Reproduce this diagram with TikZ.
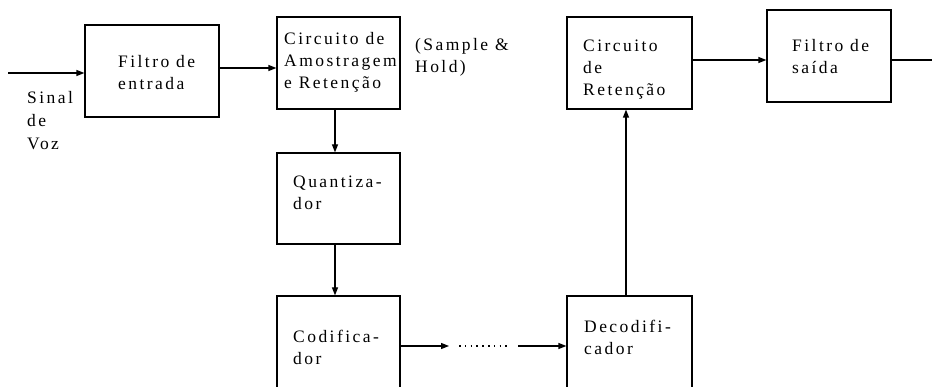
\documentclass[tikz,border=0pt]{standalone}
\usepackage{fontspec}
\setmainfont{Liberation Serif}[LetterSpace=14]
\usetikzlibrary{arrows.meta}
\begin{document}
\begin{tikzpicture}[x=1pt,y=-1pt,
  box/.style={draw,line width=1.2pt,inner sep=0pt},
  arr/.style={line width=1.2pt,-{Triangle[length=8pt,width=6pt]}},
  conn/.style={line width=1.2pt},
  lbl/.style={anchor=base west,inner sep=0pt,font=\fontsize{17.5}{22}\selectfont}]
\useasboundingbox (0,0) rectangle (932,387);
\clip (0,0) rectangle (932,387);
% boxes
\node[box,minimum width=134pt,minimum height=92pt] (fe) at (152,71) {};
\node[box,minimum width=123pt,minimum height=92pt] (cs) at (338.5,63) {};
\node[box,minimum width=123pt,minimum height=91pt] (qz) at (338.5,198.5) {};
\node[box,minimum width=123pt,minimum height=120pt] (cd) at (338.5,356) {};
\node[box,minimum width=125pt,minimum height=120pt] (dc) at (629.5,356) {};
\node[box,minimum width=125pt,minimum height=92pt] (cr) at (629.5,63) {};
\node[box,minimum width=124pt,minimum height=92pt] (fs) at (829,56) {};
% texts
\node[lbl] (t1) at (118,68) {Filtro de};
\node[lbl] (t2) at (118,90) {entrada};
\node[lbl] (t3) at (27,104) {Sinal};
\node[lbl] (t4) at (27,127) {de};
\node[lbl] (t5) at (27,150) {Voz};
\node[lbl] (t6) at (284,45) {Circuito de};
\node[lbl] (t7) at (284,67) {Amostragem};
\node[lbl] (t8) at (284,89) {e Retenção};
\node[lbl] (t9) at (415,51) {(Sample \&};
\node[lbl] (t10) at (415,73) {Hold)};
\node[lbl] (t11) at (293,188) {Quantiza-};
\node[lbl] (t12) at (293,210) {dor};
\node[lbl] (t13) at (293,343) {Codifica-};
\node[lbl] (t14) at (293,365) {dor};
\node[lbl] (t15) at (584,333) {Decodifi-};
\node[lbl] (t16) at (584,355) {cador};
\node[lbl] (t17) at (583,52) {Circuito};
\node[lbl] (t18) at (583,74) {de};
\node[lbl] (t19) at (583,96) {Retenção};
\node[lbl] (t20) at (792,52) {Filtro de};
\node[lbl] (t21) at (792,74) {saída};
% connectors
\coordinate (in) at (8,73);
\coordinate (out) at (941,60);
\coordinate (d1) at (449,346);
\coordinate (d2) at (459,346);
\coordinate (d3) at (509,346);
\coordinate (d4) at (518,346);
\draw[arr] (in) -- (fe.west |- in);
\draw[arr] (fe.east |- 0,68) -- (cs.west |- 0,68);
\draw[arr] (cs.south -| 335,0) -- (qz.north -| 335,0);
\draw[arr] (qz.south -| 335,0) -- (cd.north -| 335,0);
\draw[arr] (cd.east |- d1) -- (d1);
\draw[line width=1.6pt,dash pattern=on 1.6pt off 4.2pt] (d2) -- (d3);
\draw[arr] (d4) -- (dc.west |- d4);
\draw[arr] (dc.north -| 626,0) -- (cr.south -| 626,0);
\draw[arr] (cr.east |- 0,60) -- (fs.west |- 0,60);
\draw[arr] (fs.east |- out) -- (out);
\end{tikzpicture}
\end{document}
